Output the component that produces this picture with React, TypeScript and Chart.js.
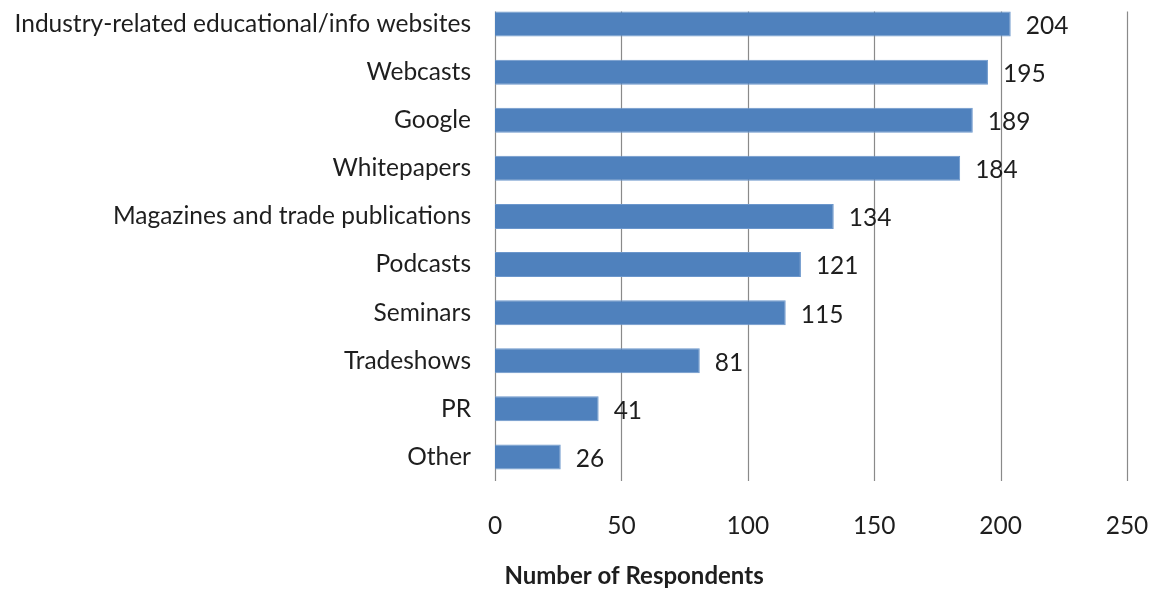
import React, { useEffect, useRef } from "react";
import { Chart, registerables } from "chart.js";

Chart.register(...registerables);

const categories = [
  "Industry-related educational/info websites",
  "Webcasts",
  "Google",
  "Whitepapers",
  "Magazines and trade publications",
  "Podcasts",
  "Seminars",
  "Tradeshows",
  "PR",
  "Other",
];
const respondents = [204, 195, 189, 184, 134, 121, 115, 81, 41, 26];
const xTicks = [0, 50, 100, 150, 200, 250];
const axisTitle = "Number of Respondents";

const FONT = "Lato, 'Open Sans', sans-serif";
const TEXT = "#1e1e1e";
const GRID = "#8a8a8a";
const SIZE = 24.5;

const gridPlugin = {
  id: "vgrid",
  beforeDatasetsDraw(chart: any) {
    const { ctx, chartArea, scales } = chart;
    const meta = chart.getDatasetMeta(0);
    const first = meta.data[0];
    const top = first ? first.y - first.height / 2 : chartArea.top;
    ctx.save();
    ctx.strokeStyle = GRID;
    ctx.lineWidth = 1.2;
    xTicks.forEach((v) => {
      const x = Math.round(scales.x.getPixelForValue(v)) + 0.5;
      ctx.beginPath();
      ctx.moveTo(x, top);
      ctx.lineTo(x, chartArea.bottom);
      ctx.stroke();
    });
    ctx.restore();
  },
};

const labelPlugin = {
  id: "vlabels",
  afterDatasetsDraw(chart: any) {
    const { ctx, scales } = chart;
    const meta = chart.getDatasetMeta(0);
    ctx.save();
    ctx.font = `${SIZE}px ${FONT}`;
    ctx.fillStyle = TEXT;
    ctx.textAlign = "left";
    ctx.textBaseline = "middle";
    meta.data.forEach((bar: any, i: number) => {
      ctx.fillText(String(respondents[i]), bar.x + 15, bar.y + 2);
    });
    // axis title
    ctx.font = `bold 24px ${FONT}`;
    ctx.textAlign = "center";
    ctx.fillText(axisTitle, scales.x.getPixelForValue(55), scales.x.bottom - 15);
    ctx.restore();
  },
};

export default function App() {
  const ref = useRef<HTMLCanvasElement>(null);
  useEffect(() => {
    document.body.style.margin = "0";
    const chart = new Chart(ref.current!, {
      type: "bar",
      data: {
        labels: categories,
        datasets: [
          {
            data: respondents,
            backgroundColor: "#4f81bd",
            borderColor: "#6c97cc",
            borderWidth: 1,
            categoryPercentage: 1,
            barPercentage: 0.52,
          },
        ],
      },
      options: {
        indexAxis: "y",
        animation: false,
        responsive: false,
        devicePixelRatio: 1,
        layout: { padding: { top: 0, right: 26, bottom: 0, left: 0 } },
        plugins: { legend: { display: false }, tooltip: { enabled: false } },
        scales: {
          x: {
            type: "linear",
            min: 0,
            max: 250,
            afterBuildTicks: (s: any) => {
              s.ticks = xTicks.map((v) => ({ value: v }));
            },
            afterFit: (s: any) => {
              s.height = 110;
              s.paddingLeft = 0;
              s.paddingRight = 0;
            },
            grid: { display: false, drawTicks: false },
            border: { display: false },
            ticks: {
              color: TEXT,
              font: { family: FONT, size: SIZE },
              padding: 30,
              maxRotation: 0,
            },
          },
          y: {
            type: "category",
            afterFit: (s: any) => {
              s.width = 495;
              s.paddingTop = 0;
              s.paddingBottom = 0;
            },
            grid: { display: false, drawTicks: false },
            border: { display: false },
            ticks: {
              color: TEXT,
              font: { family: FONT, size: SIZE },
              padding: 24,
            },
          },
        },
      },
      plugins: [gridPlugin, labelPlugin],
    });
    return () => chart.destroy();
  }, []);
  return <canvas ref={ref} width={1153} height={591} style={{ display: "block" }} />;
}
